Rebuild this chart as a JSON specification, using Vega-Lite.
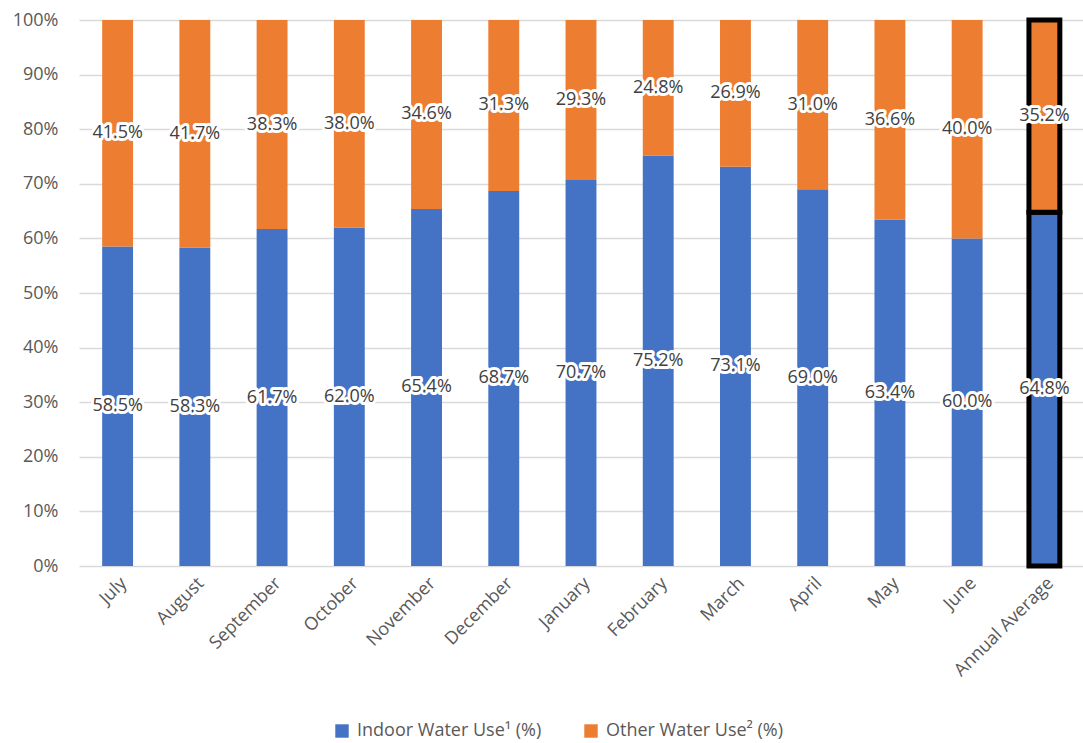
{
  "$schema": "https://vega.github.io/schema/vega-lite/v6.json",
  "width": 1004,
  "height": 546,
  "autosize": "none",
  "padding": {"left": 79, "top": 20, "right": 0, "bottom": 177},
  "background": "white",
  "config": {
    "font": "Open Sans",
    "view": {"stroke": null},
    "axis": {"labelColor": "#595959", "ticks": false, "domain": false, "title": null}
  },
  "data": {
    "values": [
      {"month": "July", "type": "Indoor Water Use¹ (%)", "share": 0.585},
      {"month": "July", "type": "Other Water Use² (%)", "share": 0.415},
      {"month": "August", "type": "Indoor Water Use¹ (%)", "share": 0.583},
      {"month": "August", "type": "Other Water Use² (%)", "share": 0.417},
      {"month": "September", "type": "Indoor Water Use¹ (%)", "share": 0.617},
      {"month": "September", "type": "Other Water Use² (%)", "share": 0.383},
      {"month": "October", "type": "Indoor Water Use¹ (%)", "share": 0.620},
      {"month": "October", "type": "Other Water Use² (%)", "share": 0.380},
      {"month": "November", "type": "Indoor Water Use¹ (%)", "share": 0.654},
      {"month": "November", "type": "Other Water Use² (%)", "share": 0.346},
      {"month": "December", "type": "Indoor Water Use¹ (%)", "share": 0.687},
      {"month": "December", "type": "Other Water Use² (%)", "share": 0.313},
      {"month": "January", "type": "Indoor Water Use¹ (%)", "share": 0.707},
      {"month": "January", "type": "Other Water Use² (%)", "share": 0.293},
      {"month": "February", "type": "Indoor Water Use¹ (%)", "share": 0.752},
      {"month": "February", "type": "Other Water Use² (%)", "share": 0.248},
      {"month": "March", "type": "Indoor Water Use¹ (%)", "share": 0.731},
      {"month": "March", "type": "Other Water Use² (%)", "share": 0.269},
      {"month": "April", "type": "Indoor Water Use¹ (%)", "share": 0.690},
      {"month": "April", "type": "Other Water Use² (%)", "share": 0.310},
      {"month": "May", "type": "Indoor Water Use¹ (%)", "share": 0.634},
      {"month": "May", "type": "Other Water Use² (%)", "share": 0.366},
      {"month": "June", "type": "Indoor Water Use¹ (%)", "share": 0.600},
      {"month": "June", "type": "Other Water Use² (%)", "share": 0.400},
      {"month": "Annual Average", "type": "Indoor Water Use¹ (%)", "share": 0.648},
      {"month": "Annual Average", "type": "Other Water Use² (%)", "share": 0.352}
    ]
  },
  "transform": [
    {"stack": "share", "groupby": ["month"], "sort": [{"field": "type", "order": "ascending"}], "as": ["lo", "hi"]},
    {"calculate": "(datum.lo + datum.hi) / 2", "as": "mid"}
  ],
  "encoding": {
    "x": {
      "field": "month", "type": "nominal", "sort": null,
      "scale": {"paddingInner": 0.6, "paddingOuter": 0.3},
      "axis": {"labelAngle": -45, "labelPadding": 8, "grid": false, "labelFontSize": 18}
    }
  },
  "layer": [
    {
      "mark": {"type": "bar"},
      "encoding": {
        "y": {
          "field": "lo", "type": "quantitative",
          "scale": {"domain": [0, 1], "nice": false},
          "axis": {"format": ".0%", "values": [0, 0.1, 0.2, 0.3, 0.4, 0.5, 0.6, 0.7, 0.8, 0.9, 1], "gridColor": "#d9d9d9", "gridWidth": 1.5, "labelPadding": 21, "labelFontSize": 18}
        },
        "y2": {"field": "hi"},
        "color": {
          "field": "type", "type": "nominal",
          "scale": {"range": ["#4472C4", "#ED7D31"]},
          "legend": {
            "title": null, "orient": "none", "direction": "horizontal",
            "legendX": 254, "legendY": 702, "labelFontSize": 18, "labelColor": "#595959",
            "symbolType": "square", "symbolSize": 180, "symbolStrokeWidth": 0,
            "columnPadding": 40, "labelLimit": 300, "labelOffset": 6
          }
        },
        "stroke": {
          "condition": {"test": "datum.month === 'Annual Average'", "value": "black"},
          "value": null
        },
        "strokeWidth": {
          "condition": {"test": "datum.month === 'Annual Average'", "value": 5},
          "value": 0
        }
      }
    },
    {
      "mark": {"type": "text", "fontSize": 18, "fill": "white", "stroke": "white", "strokeWidth": 6, "strokeJoin": "round"},
      "encoding": {
        "y": {
          "field": "mid", "type": "quantitative",
          "axis": {"format": ".0%", "values": [0, 0.1, 0.2, 0.3, 0.4, 0.5, 0.6, 0.7, 0.8, 0.9, 1], "gridColor": "#d9d9d9", "gridWidth": 1.5, "labelPadding": 21, "labelFontSize": 18}
        },
        "text": {"field": "share", "type": "quantitative", "format": ".1%"}
      }
    },
    {
      "mark": {"type": "text", "fontSize": 18, "fill": "#404040"},
      "encoding": {
        "y": {
          "field": "mid", "type": "quantitative",
          "axis": {"format": ".0%", "values": [0, 0.1, 0.2, 0.3, 0.4, 0.5, 0.6, 0.7, 0.8, 0.9, 1], "gridColor": "#d9d9d9", "gridWidth": 1.5, "labelPadding": 21, "labelFontSize": 18}
        },
        "text": {"field": "share", "type": "quantitative", "format": ".1%"}
      }
    }
  ]
}
